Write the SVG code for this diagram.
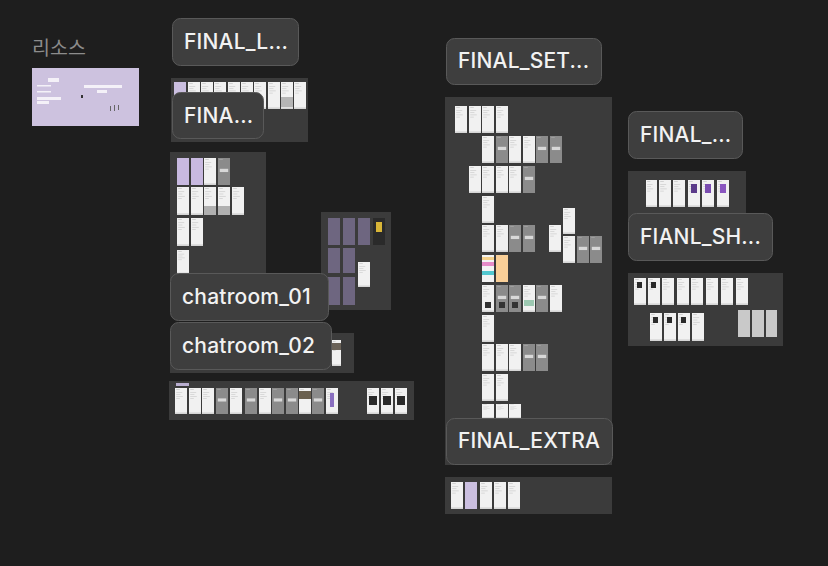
<svg xmlns="http://www.w3.org/2000/svg" width="828" height="566" viewBox="0 0 828 566">
<defs>
<pattern id="scr" patternUnits="objectBoundingBox" patternContentUnits="objectBoundingBox" width="1" height="1">
<rect width="1" height="1" fill="#f1f1f1"/>
<rect x="0.1" y="0.05" width="0.3" height="0.02" fill="#b8b8b8"/>
<rect x="0.1" y="0.16" width="0.5" height="0.02" fill="#c4c4c4"/>
<rect x="0.1" y="0.24" width="0.35" height="0.02" fill="#c4c4c4"/>
<rect x="0.1" y="0.32" width="0.55" height="0.02" fill="#c4c4c4"/>
<rect x="0.1" y="0.40" width="0.3" height="0.02" fill="#c4c4c4"/>
<rect x="0" y="0.94" width="1" height="0.06" fill="#d6d6d6"/>
</pattern>
<pattern id="gscr" patternUnits="objectBoundingBox" patternContentUnits="objectBoundingBox" width="1" height="1">
<rect width="1" height="1" fill="#8b8b8b"/>
<rect x="0.15" y="0.4" width="0.7" height="0.12" fill="#d8d8d8"/>
<rect x="0.1" y="0.05" width="0.3" height="0.02" fill="#b0b0b0"/>
</pattern>
</defs>
<style>
.fr{fill:#3b3b3b}
.pl{fill:#3e3e3e;stroke:#595959;stroke-width:1}
.pt{font-family:Inter,"Liberation Sans",sans-serif;font-size:21px;letter-spacing:0.2px;fill:#f2f2f2;font-weight:500}
.w{fill:url(#scr)}
.g{fill:url(#gscr)}
.p{fill:#cbbfe0}
.d{fill:#6e6680}
.k{fill:#2a2a2a}
</style>
<rect width="828" height="566" fill="#1e1e1e"/>

<g id="resource">
<text x="32" y="55" font-family="'Noto Sans CJK KR','Noto Sans',sans-serif" font-size="19.5" fill="#8c8c8c">리소스</text>
<rect x="32" y="68" width="107" height="58" fill="#cdc2df"/>
<rect x="48" y="78" width="11" height="4" fill="#f4f1f8"/>
<rect x="37" y="85" width="14" height="1.5" fill="#f4f1f8"/>
<rect x="37" y="91" width="14" height="1.5" fill="#f4f1f8"/>
<rect x="37" y="97" width="24" height="3" fill="#f4f1f8"/>
<rect x="37" y="101" width="12" height="3" fill="#f4f1f8"/>
<rect x="84" y="85" width="38" height="3" fill="#f4f1f8"/>
<rect x="97" y="90" width="10" height="3" fill="#f4f1f8"/>
<rect x="81" y="95" width="2" height="3" fill="#333"/>
<rect x="110" y="106" width="1" height="5" fill="#666"/>
<rect x="114" y="105" width="1" height="6" fill="#666"/>
<rect x="118" y="105" width="1" height="5" fill="#666"/>
</g>

<g id="frame-final-l">
<rect class="fr" x="171" y="78" width="137" height="64"/>
<rect class="p" x="174" y="82" width="12" height="27"/>
<rect class="w" x="188" y="82" width="12" height="27"/>
<rect class="w" x="201" y="82" width="12" height="27"/>
<rect class="w" x="214" y="82" width="12" height="27"/>
<rect class="w" x="228" y="82" width="12" height="27"/>
<rect class="w" x="241" y="82" width="12" height="27"/>
<rect class="w" x="254" y="82" width="12" height="27"/>
<rect class="w" x="268" y="82" width="12" height="27"/>
<rect class="w" x="281" y="82" width="12" height="27"/>
<rect class="w" x="294" y="82" width="12" height="27"/>
<rect x="281" y="97" width="12" height="10" fill="#b5b5b5"/>
</g>
<g id="label-final-l">
<rect class="pl" x="172.5" y="18.5" width="126" height="47" rx="8"/>
<text class="pt" x="184" y="49">FINAL_L...</text>
</g>
<g id="label-fina">
<rect class="pl" x="172.5" y="92.5" width="91" height="46" rx="8"/>
<text class="pt" x="184" y="123">FINA...</text>
</g>

<g id="frame-chat-list">
<rect class="fr" x="170" y="152" width="96" height="128"/>
<rect x="177" y="158" width="12" height="27" fill="#c8b9e0"/>
<rect x="191" y="158" width="12" height="27" fill="#c8b9e0"/>
<rect class="w" x="204" y="158" width="12" height="27"/>
<rect class="g" x="218" y="158" width="12" height="27"/>
<rect class="w" x="177" y="187" width="12" height="28"/>
<rect class="w" x="191" y="187" width="12" height="28"/>
<rect class="w" x="204" y="187" width="12" height="28"/>
<rect x="204" y="206" width="12" height="9" fill="#b0b0b0"/>
<rect class="w" x="218" y="187" width="12" height="28"/>
<rect x="218" y="206" width="12" height="9" fill="#b0b0b0"/>
<rect class="w" x="232" y="187" width="12" height="28"/>
<rect class="w" x="177" y="218" width="12" height="28"/>
<rect class="w" x="191" y="218" width="12" height="28"/>
<rect class="w" x="177" y="250" width="12" height="24"/>
</g>

<g id="frame-chat-images">
<rect class="fr" x="321" y="212" width="70" height="98"/>
<rect class="d" x="328" y="218" width="12" height="27"/>
<rect class="d" x="343" y="218" width="12" height="27"/>
<rect class="d" x="358" y="218" width="12" height="27"/>
<rect x="373" y="218" width="12" height="27" fill="#2a2a2a"/>
<rect x="376" y="222" width="6" height="10" fill="#d8b537"/>
<rect class="d" x="328" y="248" width="12" height="25"/>
<rect class="d" x="343" y="248" width="12" height="25"/>
<rect class="w" x="358" y="262" width="12" height="25"/>
<rect class="d" x="328" y="277" width="12" height="28"/>
<rect class="d" x="343" y="277" width="12" height="28"/>
</g>

<g id="label-chatroom-01">
<rect class="pl" x="170.5" y="273.5" width="158" height="47" rx="8"/>
<text class="pt" x="182" y="304">chatroom_01</text>
</g>

<g id="frame-chatroom-02">
<rect class="fr" x="170" y="333" width="184" height="40"/>
<rect class="w" x="332" y="340" width="9" height="26"/>
<rect x="332" y="343" width="9" height="7" fill="#6a6258"/>
</g>
<g id="label-chatroom-02">
<rect class="pl" x="170.5" y="322.5" width="161" height="47" rx="8"/>
<text class="pt" x="182" y="353">chatroom_02</text>
</g>

<g id="frame-bottom-left">
<rect class="fr" x="169" y="381" width="245" height="39"/>
<rect x="176" y="383" width="13" height="3" fill="#b9aed0"/>
<rect class="w" x="175" y="388" width="12" height="26"/>
<rect class="w" x="189" y="388" width="12" height="26"/>
<rect class="w" x="202" y="388" width="12" height="26"/>
<rect class="g" x="216" y="388" width="12" height="26"/>
<rect class="w" x="230" y="388" width="12" height="26"/>
<rect class="g" x="245" y="388" width="12" height="26"/>
<rect class="w" x="259" y="388" width="12" height="26"/>
<rect class="g" x="272" y="388" width="12" height="26"/>
<rect class="g" x="286" y="388" width="12" height="26"/>
<rect class="w" x="299" y="388" width="12" height="26"/>
<rect x="299" y="391" width="12" height="8" fill="#6b6150"/>
<rect class="g" x="312" y="388" width="12" height="26"/>
<rect class="w" x="326" y="388" width="12" height="26"/>
<rect x="330" y="393" width="4" height="14" fill="#8a6fc0"/>
<rect class="w" x="367" y="388" width="12" height="26"/>
<rect class="w" x="381" y="388" width="12" height="26"/>
<rect class="w" x="395" y="388" width="12" height="26"/>
<rect class="k" x="369" y="396" width="8" height="9"/>
<rect class="k" x="383" y="396" width="8" height="9"/>
<rect class="k" x="397" y="396" width="8" height="9"/>
</g>

<g id="frame-final-set">
<rect class="fr" x="445" y="97" width="167" height="368"/>
<g class="w">
<rect x="455" y="106" width="12" height="27"/><rect x="469" y="106" width="12" height="27"/><rect x="482" y="106" width="12" height="27"/><rect x="496" y="106" width="12" height="27"/>
<rect x="482" y="136" width="12" height="27"/><rect x="509" y="136" width="12" height="27"/><rect x="523" y="136" width="12" height="27"/>
<rect x="469" y="166" width="12" height="27"/><rect x="482" y="166" width="12" height="27"/><rect x="496" y="166" width="12" height="27"/><rect x="509" y="166" width="12" height="27"/>
<rect x="482" y="196" width="12" height="27"/>
<rect x="482" y="225" width="12" height="27"/><rect x="496" y="225" width="12" height="27"/><rect x="549" y="225" width="12" height="27"/>
<rect x="563" y="208" width="12" height="26"/><rect x="563" y="236" width="12" height="27"/>
<rect x="482" y="285" width="12" height="27"/><rect x="523" y="285" width="12" height="27"/><rect x="550" y="285" width="12" height="27"/>
<rect x="482" y="315" width="12" height="27"/>
<rect x="482" y="344" width="12" height="27"/><rect x="496" y="344" width="12" height="27"/><rect x="509" y="344" width="12" height="27"/>
<rect x="482" y="374" width="12" height="27"/><rect x="496" y="374" width="12" height="27"/>
<rect x="482" y="404" width="12" height="14"/><rect x="496" y="404" width="12" height="14"/><rect x="509" y="404" width="12" height="14"/>
</g>
<g class="g">
<rect x="496" y="136" width="12" height="27"/><rect x="536" y="136" width="12" height="27"/><rect x="550" y="136" width="12" height="27"/>
<rect x="523" y="166" width="12" height="27"/>
<rect x="509" y="225" width="12" height="27"/><rect x="523" y="225" width="12" height="27"/>
<rect x="577" y="236" width="12" height="27"/><rect x="590" y="236" width="12" height="27"/>
<rect x="496" y="285" width="12" height="27"/><rect x="509" y="285" width="12" height="27"/><rect x="536" y="285" width="12" height="27"/>
<rect x="523" y="344" width="12" height="27"/><rect x="536" y="344" width="12" height="27"/>
</g>
<rect x="482" y="255" width="12" height="27" fill="#f3f3f3"/>
<rect x="482" y="262" width="12" height="4" fill="#e58bc8"/>
<rect x="482" y="271" width="12" height="4" fill="#52c7cf"/>
<rect x="482" y="257" width="12" height="3" fill="#f4d08a"/>
<rect x="496" y="255" width="12" height="27" fill="#f9cf98"/>
<rect x="524" y="300" width="10" height="6" fill="#9dc9b2"/>
<rect x="485" y="302" width="6" height="6" fill="#333"/>
<rect x="499" y="302" width="6" height="6" fill="#333"/>
<rect x="512" y="302" width="6" height="6" fill="#333"/>
</g>
<g id="label-final-set">
<rect class="pl" x="446.5" y="38.5" width="155" height="46" rx="8"/>
<text class="pt" x="458" y="68">FINAL_SET...</text>
</g>
<g id="label-final-extra">
<rect class="pl" x="446.5" y="418.5" width="166" height="46" rx="8"/>
<text class="pt" x="458" y="448">FINAL_EXTRA</text>
</g>

<g id="frame-final-extra">
<rect class="fr" x="445" y="477" width="167" height="37"/>
<rect class="w" x="451" y="482" width="12" height="27"/>
<rect class="p" x="465" y="482" width="12" height="27"/>
<rect class="w" x="480" y="482" width="12" height="27"/>
<rect class="w" x="494" y="482" width="12" height="27"/>
<rect class="w" x="508" y="482" width="12" height="27"/>
</g>

<g id="frame-final-short">
<rect class="fr" x="628" y="171" width="118" height="49"/>
<rect class="w" x="646" y="180" width="11" height="27"/>
<rect class="w" x="659" y="180" width="12" height="27"/>
<rect class="w" x="673" y="180" width="12" height="27"/>
<rect class="w" x="688" y="180" width="12" height="27"/>
<rect class="w" x="702" y="180" width="12" height="27"/>
<rect class="w" x="717" y="180" width="12" height="27"/>
<rect x="691" y="184" width="6" height="9" fill="#5b3b8a"/>
<rect x="705" y="184" width="6" height="9" fill="#7a4cb0"/>
<rect x="720" y="184" width="6" height="9" fill="#8a56c0"/>
</g>
<g id="label-final">
<rect class="pl" x="628.5" y="111.5" width="114" height="47" rx="8"/>
<text class="pt" x="640" y="142">FINAL_...</text>
</g>

<g id="frame-fianl-sh">
<rect class="fr" x="628" y="273" width="155" height="73"/>
<g class="w">
<rect x="634" y="278" width="12" height="27"/><rect x="648" y="278" width="12" height="27"/><rect x="662" y="278" width="12" height="27"/><rect x="677" y="278" width="12" height="27"/><rect x="691" y="278" width="12" height="27"/><rect x="706" y="278" width="12" height="27"/><rect x="721" y="278" width="12" height="27"/><rect x="736" y="278" width="12" height="27"/>
<rect x="650" y="313" width="12" height="28"/><rect x="664" y="313" width="12" height="28"/><rect x="678" y="313" width="12" height="28"/><rect x="692" y="313" width="12" height="28"/>
</g>
<rect x="738" y="310" width="12" height="27" fill="#c9c9c9"/>
<rect x="752" y="310" width="12" height="27" fill="#c9c9c9"/>
<rect x="766" y="310" width="11" height="27" fill="#c9c9c9"/>
<rect class="k" x="637" y="282" width="5" height="6"/>
<rect class="k" x="651" y="282" width="5" height="6"/>
<rect class="k" x="653" y="317" width="5" height="6"/>
<rect class="k" x="667" y="317" width="5" height="6"/>
<rect class="k" x="681" y="317" width="5" height="6"/>
</g>
<g id="label-fianl-sh">
<rect class="pl" x="628.5" y="213.5" width="144" height="47" rx="8"/>
<text class="pt" x="640" y="244">FIANL_SH...</text>
</g>
<g id="connectors"/>
</svg>
